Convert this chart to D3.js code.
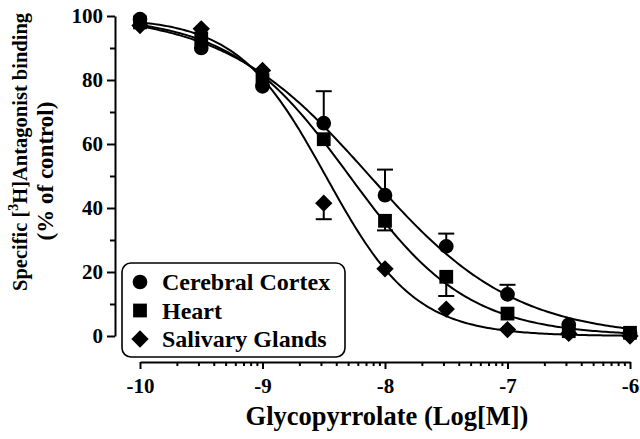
<!DOCTYPE html>
<html>
<head>
<meta charset="utf-8">
<script src="https://cdn.jsdelivr.net/npm/d3@7"></script>
<style>
  html, body { margin: 0; padding: 0; background: #fff; }
  svg { display: block; }
  text { font-family: "Liberation Serif", "Times New Roman", serif; font-weight: bold; fill: #000; }
</style>
</head>
<body>
<svg id="chart" width="640" height="439"></svg>
<script>
// ---- data ----
const logConc = [-10, -9.5, -9, -8.5, -8, -7.5, -7, -6.5, -6];
const seriesNames = ["Cerebral Cortex", "Heart", "Salivary Glands"];
const cortexVals   = [99, 90, 78, 66.5, 44, 28, 13, 3.5, 0.8];
const heartVals    = [98, 93, 80, 61.5, 36, 18.5, 7, 1.5, 1];
const salivaryVals = [97, 96, 83, 41.5, 21, 8.4, 2, 0.8, 0];
// error bar extents (SEM), positive = drawn upward, negative = downward
const cortexErr   = [0, 0, 0, 10, 8, 4, 3, 0, 0];
const heartErr    = [0, 0, 0, 0, -3, -6, 0, 0, 0];
const salivaryErr = [0, 0, 0, -5, 0, 0, 0, 0, 0];
// fitted sigmoid parameters: [top, bottom, logIC50, hill slope]
const cortexFit   = [101, -0.5, -8.13, 0.73];
const heartFit    = [100, 0, -8.29, 0.9];
const salivaryFit = [99.5, 0, -8.48, 1.2];
const xTicks = [-10, -9, -8, -7, -6];
const yTicks = [0, 20, 40, 60, 80, 100];
const yMinorTicks = [10, 30, 50, 70, 90];

const series = [
  { name: seriesNames[0], vals: cortexVals, err: cortexErr, fit: cortexFit, shape: "circle" },
  { name: seriesNames[1], vals: heartVals, err: heartErr, fit: heartFit, shape: "square" },
  { name: seriesNames[2], vals: salivaryVals, err: salivaryErr, fit: salivaryFit, shape: "diamond" }
];

const svg = d3.select("#chart");
const x = d3.scaleLinear().domain([-10, -6]).range([140, 630]);
const y = d3.scaleLinear().domain([0, 100]).range([336, 16]);
const FONT = "'Liberation Serif', 'Times New Roman', serif";

// ---- axes ----
const yAxisX = 115, xAxisY = 362;
svg.append("g").attr("transform", `translate(${yAxisX},0)`)
  .call(d3.axisLeft(y).tickValues(yTicks).tickSize(8).tickSizeOuter(0).tickPadding(4).tickFormat(d => String(d)));
svg.append("g").attr("transform", `translate(${yAxisX},0)`)
  .call(d3.axisLeft(y).tickValues(yMinorTicks).tickSize(5).tickSizeOuter(0).tickFormat(""))
  .select(".domain").remove();

svg.append("g").attr("transform", `translate(0,${xAxisY})`)
  .call(d3.axisBottom(x).tickValues(xTicks).tickSize(7).tickSizeOuter(0).tickPadding(9).tickFormat(d => String(d)));
const minorX = [];
for (let d = -10; d < -6; d++) for (let k = 2; k <= 9; k++) minorX.push(d + Math.log10(k));
svg.append("g").attr("transform", `translate(0,${xAxisY})`)
  .call(d3.axisBottom(x).tickValues(minorX).tickSize(4).tickSizeOuter(0).tickFormat(""))
  .select(".domain").remove();

svg.selectAll("g").attr("font-family", null);
svg.selectAll(".domain, .tick line").attr("stroke", "#000").attr("stroke-width", 2);
svg.selectAll(".tick text").style("font-size", "21px").style("font-family", FONT).style("font-weight", "bold");

// ---- fitted curves ----
const fitFn = (p, xv) => p[1] + (p[0] - p[1]) / (1 + Math.pow(10, (xv - p[2]) * p[3]));
const curveXs = d3.range(-10, -6.0001, 0.02).concat([-6]);
const line = d3.line().x(d => x(d[0])).y(d => y(d[1]));
series.forEach(s => {
  svg.append("path")
    .datum(curveXs.map(xv => [xv, fitFn(s.fit, xv)]))
    .attr("d", line).attr("fill", "none").attr("stroke", "#000").attr("stroke-width", 2);
});

// ---- error bars ----
series.forEach(s => {
  const g = svg.append("g");
  logConc.forEach((xv, i) => {
    const e = s.err[i];
    if (!e) return;
    const y0 = y(s.vals[i]), y1 = y(s.vals[i] + e);
    g.append("line").attr("x1", x(xv)).attr("x2", x(xv)).attr("y1", y0).attr("y2", y1)
      .attr("stroke", "#000").attr("stroke-width", 2);
    g.append("line").attr("x1", x(xv) - 8).attr("x2", x(xv) + 8).attr("y1", y1).attr("y2", y1)
      .attr("stroke", "#000").attr("stroke-width", 2);
  });
});

// ---- markers ----
function symbolFor(shape) {
  if (shape === "circle") return { p: d3.symbol(d3.symbolCircle, 170)(), rot: 0 };
  if (shape === "square") return { p: d3.symbol(d3.symbolSquare, 190)(), rot: 0 };
  return { p: d3.symbol(d3.symbolSquare, 150)(), rot: 45 };
}
series.forEach(s => {
  const sym = symbolFor(s.shape);
  svg.append("g").selectAll("path").data(logConc.map((xv, i) => [xv, s.vals[i]])).join("path")
    .attr("d", sym.p)
    .attr("transform", d => `translate(${x(d[0])},${y(d[1])}) rotate(${sym.rot})`)
    .attr("fill", "#000");
});

// ---- legend ----
const leg = svg.append("g");
leg.append("rect").attr("x", 122).attr("y", 263).attr("width", 223).attr("height", 94)
  .attr("rx", 9).attr("fill", "#fff").attr("stroke", "#000").attr("stroke-width", 1.6);
series.forEach((s, i) => {
  const cy = 282 + i * 28.5;
  const sym = symbolFor(s.shape);
  leg.append("path").attr("d", sym.p).attr("transform", `translate(140,${cy}) rotate(${sym.rot})`).attr("fill", "#000");
  leg.append("text").attr("x", 162).attr("y", cy + 8).style("font-size", "24px").text(s.name);
});

// ---- axis titles ----
svg.append("text").attr("x", 387).attr("y", 425).attr("text-anchor", "middle")
  .style("font-size", "26.5px").text("Glycopyrrolate (Log[M])");

const yl1 = svg.append("text").attr("transform", "translate(27,291) rotate(-90)")
  .style("font-size", "20.5px");
yl1.append("tspan").text("Specific [");
yl1.append("tspan").attr("dy", -9).style("font-size", "14px").text("3");
yl1.append("tspan").attr("dy", 9).text("H]Antagonist binding");
svg.append("text").attr("transform", "translate(53,171) rotate(-90)").attr("text-anchor", "middle")
  .style("font-size", "23px").text("(% of control)");
</script>
</body>
</html>
